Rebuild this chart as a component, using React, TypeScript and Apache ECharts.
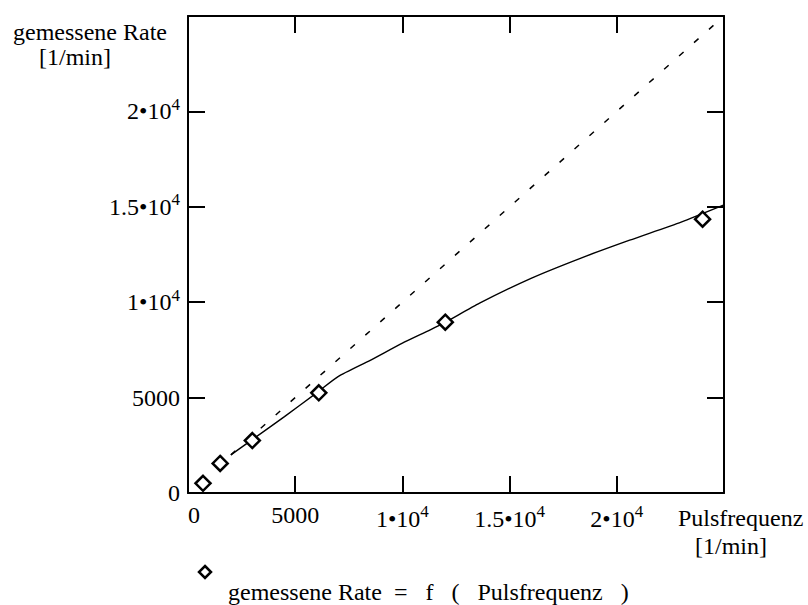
import React, { useEffect, useRef } from "react";
import * as echarts from "echarts";

// measured points: gemessene Rate vs. Pulsfrequenz [1/min]
const pulsX = [700, 1500, 3000, 6100, 12000, 24000];
const rateY = [510, 1550, 2750, 5250, 8950, 14350];

// solid fitted curve
const fitX = [2000, 3000, 4500, 6000, 7000, 8500, 10000, 11300, 12000, 13600, 16000, 18300, 20600, 23000, 25000];
const fitY = [2000, 2800, 4000, 5250, 6100, 6950, 7850, 8550, 8950, 9950, 11250, 12300, 13250, 14200, 15100];

// dashed ideal line (Rate = Pulsfrequenz)
const idealX = [2000, 25000];
const idealY = [2000, 25000];

const tickValues = [0, 5000, 10000, 15000, 20000];
const tickLabels = ["0", "5000", "1•10{s|4}", "1.5•10{s|4}", "2•10{s|4}"];

const FONT = '"Liberation Serif", "Times New Roman", serif';

const labelFor = (v: number) => {
  const i = tickValues.indexOf(v);
  return i >= 0 ? tickLabels[i] : "";
};

const rich = {
  s: { fontSize: 17, fontFamily: FONT, color: "#000", padding: [0, 0, 14, 0] },
};

const axisCommon = {
  type: "value",
  min: 0,
  max: 25000,
  interval: 5000,
  splitLine: { show: false },
  axisLine: { show: true, onZero: false, lineStyle: { color: "#000", width: 2 } },
  axisTick: { show: true, inside: true, length: 17, lineStyle: { color: "#000", width: 2 } },
};

export default function App() {
  const ref = useRef<HTMLDivElement>(null);
  useEffect(() => {
    if (!ref.current) return;
    const chart = echarts.init(ref.current, undefined, { renderer: "svg" });
    chart.setOption({
      animation: false,
      backgroundColor: "#fff",
      grid: { left: 188, top: 16, right: 84, bottom: 112, containLabel: false, outerBoundsMode: "none" },
      xAxis: [
        {
          ...axisCommon,
          position: "bottom",
          axisLabel: {
            show: true,
            margin: 10,
            color: "#000",
            fontSize: 24,
            fontFamily: FONT,
            showMaxLabel: false,
            alignMinLabel: "left",
            formatter: (v: number) => labelFor(v),
            rich,
          },
        },
        { ...axisCommon, position: "top", axisLabel: { show: false } },
      ],
      yAxis: [
        {
          ...axisCommon,
          position: "left",
          axisLabel: {
            show: true,
            margin: 8,
            color: "#000",
            fontSize: 24,
            fontFamily: FONT,
            showMaxLabel: false,
            formatter: (v: number) => labelFor(v),
            rich,
          },
        },
        { ...axisCommon, position: "right", axisLabel: { show: false } },
      ],
      series: [
        {
          name: "ideal",
          type: "line",
          data: idealX.map((x, i) => [x, idealY[i]]),
          symbol: "none",
          lineStyle: { color: "#000", width: 1.5, type: [6, 14] },
          z: 2,
        },
        {
          name: "fit",
          type: "line",
          data: fitX.map((x, i) => [x, fitY[i]]),
          symbol: "none",
          smooth: 0.2,
          lineStyle: { color: "#000", width: 1.4 },
          z: 3,
        },
        {
          name: "gemessene Rate = f ( Pulsfrequenz )",
          type: "scatter",
          data: pulsX.map((x, i) => [x, rateY[i]]),
          symbol: "diamond",
          symbolSize: 15,
          itemStyle: { color: "#fff", borderColor: "#000", borderWidth: 2.5, opacity: 1 },
          z: 5,
        },
      ],
      graphic: [
        {
          type: "text",
          x: 90,
          y: 32,
          style: { text: "gemessene Rate", fill: "#000", font: `24px ${FONT}`, textAlign: "center", textVerticalAlign: "middle" },
        },
        {
          type: "text",
          x: 75,
          y: 57,
          style: { text: "[1/min]", fill: "#000", font: `24px ${FONT}`, textAlign: "center", textVerticalAlign: "middle" },
        },
        {
          type: "text",
          x: 678,
          y: 518,
          style: { text: "Pulsfrequenz", fill: "#000", font: `24px ${FONT}`, textAlign: "left", textVerticalAlign: "middle" },
        },
        {
          type: "text",
          x: 695,
          y: 546,
          style: { text: "[1/min]", fill: "#000", font: `24px ${FONT}`, textAlign: "left", textVerticalAlign: "middle" },
        },
        {
          type: "polygon",
          shape: { points: [[205, 566], [211, 572], [205, 578], [199, 572]] },
          style: { fill: "#fff", stroke: "#000", lineWidth: 2.5 },
        },
        {
          type: "text",
          x: 228,
          y: 592,
          style: { text: "gemessene Rate  =   f   (   Pulsfrequenz   )", fill: "#000", font: `24px ${FONT}`, textAlign: "left", textVerticalAlign: "middle" },
        },
      ],
    });
    return () => chart.dispose();
  }, []);
  return <div ref={ref} style={{ position: "absolute", left: 0, top: 0, width: 808, height: 605 }} />;
}
